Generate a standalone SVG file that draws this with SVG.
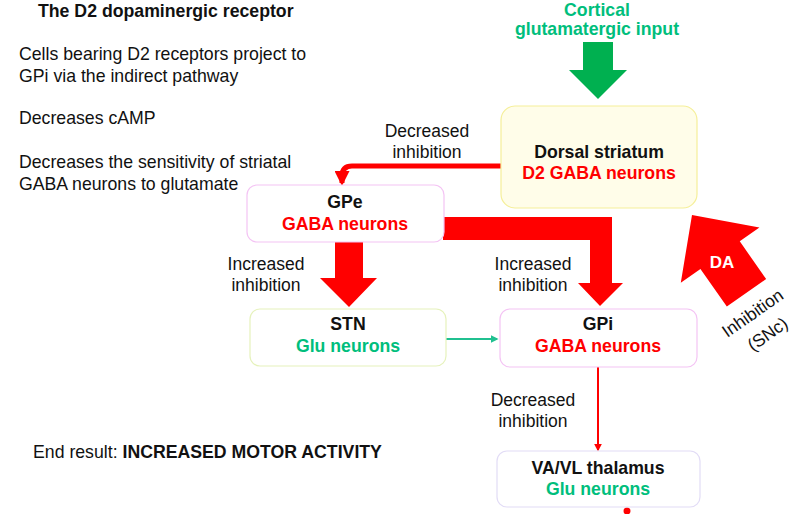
<svg xmlns="http://www.w3.org/2000/svg" width="794" height="514" viewBox="0 0 794 514">
<defs>
<style>
text{font-family:"Liberation Sans",Arial,sans-serif;}
.t{font-size:17.7px;fill:#111;}
.b{font-weight:bold;font-size:17.7px;text-anchor:middle;}
.k{fill:#111;}
.r{fill:#ff0000;}
.g{fill:#00be7c;}
.lab{font-size:17.5px;fill:#111;text-anchor:middle;}
.box{fill:#fff;stroke-width:1.2;}
</style>
<marker id="ah" viewBox="0 0 10 10" refX="8" refY="5" markerWidth="3" markerHeight="3" orient="auto"><path d="M0,0 L10,5 L0,10 z" fill="#ff0000"/></marker>
<marker id="ah2" viewBox="0 0 10 10" refX="8" refY="5" markerWidth="4" markerHeight="4" orient="auto"><path d="M0,0 L10,5 L0,10 z" fill="#ff0000"/></marker>
<marker id="ahg" viewBox="0 0 10 10" refX="8" refY="5" markerWidth="4" markerHeight="4" orient="auto"><path d="M0,0 L10,5 L0,10 z" fill="#20c090"/></marker>
</defs>
<rect width="794" height="514" fill="#fff"/>

<g id="notes">
<text x="38" y="17" style="font-weight:bold;font-size:17.7px" fill="#111">The D2 dopaminergic receptor</text>
<text class="t" x="19" y="60">Cells bearing D2 receptors project to</text>
<text class="t" x="19" y="82">GPi via the indirect pathway</text>
<text class="t" x="19" y="124">Decreases cAMP</text>
<text class="t" x="19" y="168">Decreases the sensitivity of striatal</text>
<text class="t" x="19" y="190">GABA neurons to glutamate</text>
<text class="t" x="33" y="458">End result: <tspan font-weight="bold">INCREASED MOTOR ACTIVITY</tspan></text>
</g>

<g id="cortical">
<text class="b g" x="597" y="16">Cortical</text>
<text class="b g" x="597" y="35">glutamatergic input</text>
</g>

<g id="connectors">
<polygon points="583,42 613,42 613,70 627,70 598,99 569,70 583,70" fill="#00b050"/>
<path d="M501,166 L352,166 Q342,166 342,176 L342,183" fill="none" stroke="#ff0000" stroke-width="5" marker-end="url(#ah)"/>
<polygon points="335,242 363,242 363,278 377,278 349,307 320,278 335,278" fill="#ff0000"/>
<polygon points="443,217 612,217 612,283 623,283 600,306 578,283 590,283 590,240 443,240" fill="#ff0000"/>
<line x1="446" y1="339" x2="497" y2="339" stroke="#20c090" stroke-width="2" marker-end="url(#ahg)"/>
<line x1="598" y1="367" x2="598" y2="450" stroke="#ff0000" stroke-width="2" marker-end="url(#ah2)"/>
<g transform="translate(692,215) rotate(-35)">
<polygon points="0,0 48,49 24,49 24,95 -24,95 -24,49 -48,49" fill="#ff0000"/>
</g>
<text x="722" y="268" style="font-weight:bold;font-size:17px;fill:#fff;text-anchor:middle">DA</text>
<text transform="translate(756,318) rotate(-35)" class="lab" x="0" y="0">Inhibition</text>
<text transform="translate(771,339) rotate(-35)" class="lab" x="0" y="0">(SNc)</text>
<text class="lab" x="427" y="137">Decreased</text>
<text class="lab" x="427" y="158">inhibition</text>
<text class="lab" x="266" y="270">Increased</text>
<text class="lab" x="266" y="291">inhibition</text>
<text class="lab" x="533" y="270">Increased</text>
<text class="lab" x="533" y="291">inhibition</text>
<text class="lab" x="533" y="406">Decreased</text>
<text class="lab" x="533" y="427">inhibition</text>
<circle cx="627" cy="511" r="3.5" fill="#ff0000"/>
</g>

<g id="striatum">
<rect x="501" y="106" width="196" height="102" rx="14" fill="#fffde9" stroke="#f5ef9a" stroke-width="1.2"/>
<text class="b k" x="599" y="158">Dorsal striatum</text>
<text class="b r" x="599" y="179">D2 GABA neurons</text>
</g>

<g id="gpe">
<rect class="box" x="247" y="185" width="197" height="57" rx="10" stroke="#f4c4f4"/>
<text class="b k" x="345" y="208">GPe</text>
<text class="b r" x="345" y="230">GABA neurons</text>
</g>

<g id="stn">
<rect class="box" x="250" y="309" width="196" height="57" rx="10" stroke="#e6f2bc"/>
<text class="b k" x="348" y="330">STN</text>
<text class="b g" x="348" y="352">Glu neurons</text>
</g>

<g id="gpi">
<rect class="box" x="500" y="309" width="197" height="58" rx="10" stroke="#f4c4f4"/>
<text class="b k" x="598" y="330">GPi</text>
<text class="b r" x="598" y="352">GABA neurons</text>
</g>

<g id="thalamus">
<rect class="box" x="497" y="451" width="203" height="56" rx="10" stroke="#e2dcf6"/>
<text class="b k" x="598" y="474">VA/VL thalamus</text>
<text class="b g" x="598" y="495">Glu neurons</text>
</g>
</svg>
